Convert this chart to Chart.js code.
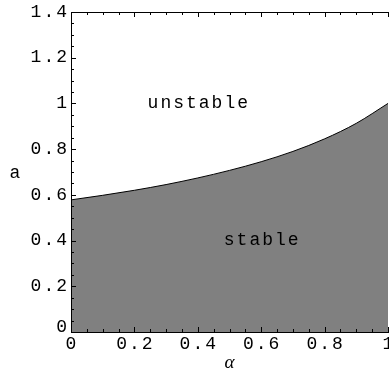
<!DOCTYPE html>
<html>
<head>
<meta charset="utf-8">
<script src="https://cdn.jsdelivr.net/npm/chart.js@4.4.0/dist/chart.umd.min.js"></script>
<style>
html,body{margin:0;padding:0;background:#fff;}
#wrap{width:389px;height:375px;position:relative;}
</style>
</head>
<body>
<div id="wrap"><canvas id="c" width="389" height="375"></canvas></div>
<script>
// Data
const alphaValues = [0, 0.1, 0.2, 0.3, 0.4, 0.5, 0.6, 0.7, 0.8, 0.9, 1.0];
const aValues     = [0.578, 0.598, 0.620, 0.645, 0.674, 0.707, 0.745, 0.790, 0.845, 0.913, 1.000];
const xTickValues = [0, 0.2, 0.4, 0.6, 0.8, 1];
const xTickLabels = ['0', '0.2', '0.4', '0.6', '0.8', '1'];
const yTickValues = [0, 0.2, 0.4, 0.6, 0.8, 1, 1.2, 1.4];
const yTickLabels = ['0', '0.2', '0.4', '0.6', '0.8', '1', '1.2', '1.4'];
const regionLabels = [
  {text: 'unstable', x: 0.40, y: 1.00},
  {text: 'stable',   x: 0.60, y: 0.40}
];
const xTitle = 'α';
const yTitle = 'a';

const points = alphaValues.map((v, i) => ({x: v, y: aValues[i]}));
const MONO = '18px "Liberation Mono", "Courier New", monospace';

const decor = {
  id: 'decor',
  afterDatasetsDraw(chart) {
    const ctx = chart.ctx;
    const xs = chart.scales.x, ys = chart.scales.y;
    const ca = chart.chartArea;
    ctx.save();
    ctx.strokeStyle = '#000';
    ctx.lineWidth = 1;
    // frame: left, top, bottom
    ctx.beginPath();
    ctx.moveTo(Math.round(ca.left) + 0.5, Math.round(ca.bottom) + 0.5);
    ctx.lineTo(Math.round(ca.left) + 0.5, Math.round(ca.top) + 0.5);
    ctx.lineTo(ca.right + 2, Math.round(ca.top) + 0.5);
    ctx.moveTo(Math.round(ca.left) + 0.5, Math.round(ca.bottom) + 0.5);
    ctx.lineTo(ca.right + 2, Math.round(ca.bottom) + 0.5);
    ctx.stroke();
    // ticks
    ctx.beginPath();
    for (let i = 0; i <= 20; i++) {
      const v = i * 0.05;
      const major = i % 4 === 0;
      const len = major ? 5 : 3;
      const px = Math.round(xs.getPixelForValue(v)) + 0.5;
      ctx.moveTo(px, Math.round(ca.bottom));
      ctx.lineTo(px, Math.round(ca.bottom) - len);
      ctx.moveTo(px, Math.round(ca.top));
      ctx.lineTo(px, Math.round(ca.top) + len);
    }
    for (let i = 0; i <= 28; i++) {
      const v = i * 0.05;
      const major = i % 4 === 0;
      const len = major ? 5 : 3;
      const py = Math.round(ys.getPixelForValue(v)) + 0.5;
      ctx.moveTo(Math.round(ca.left), py);
      ctx.lineTo(Math.round(ca.left) + len, py);
    }
    ctx.stroke();

    ctx.fillStyle = '#000';
    ctx.font = MONO;
    try { ctx.letterSpacing = '2px'; } catch (e) {}
    // x tick labels
    ctx.textAlign = 'center';
    ctx.textBaseline = 'middle';
    xTickValues.forEach((v, i) => {
      ctx.fillText(xTickLabels[i], xs.getPixelForValue(v) + 1, ca.bottom + 12);
    });
    // y tick labels
    ctx.textAlign = 'right';
    yTickValues.forEach((v, i) => {
      let py = ys.getPixelForValue(v);
      if (v === 0) py -= 5;
      ctx.fillText(yTickLabels[i], ca.left - 2, py);
    });
    // region labels
    ctx.textAlign = 'center';
    regionLabels.forEach(r => {
      ctx.fillText(r.text, xs.getPixelForValue(r.x) + 1, ys.getPixelForValue(r.y));
    });
    // axis titles
    ctx.fillText(yTitle, 16, (ca.top + ca.bottom) / 2 + 1);
    try { ctx.letterSpacing = '0px'; } catch (e) {}
    ctx.font = 'italic 19px "Liberation Serif", "Times New Roman", serif';
    ctx.fillText(xTitle, (ca.left + ca.right) / 2, 363);
    ctx.restore();
  }
};

new Chart(document.getElementById('c'), {
  type: 'scatter',
  data: {
    datasets: [{
      data: points,
      showLine: true,
      fill: 'origin',
      backgroundColor: '#808080',
      borderColor: '#000',
      borderWidth: 1,
      pointRadius: 0,
      tension: 0.4,
      cubicInterpolationMode: 'monotone'
    }]
  },
  options: {
    responsive: false,
    animation: false,
    devicePixelRatio: 1,
    layout: {padding: {left: 0, right: 1, top: 12, bottom: 0}},
    plugins: {legend: {display: false}, tooltip: {enabled: false}},
    scales: {
      x: {
        type: 'linear', min: 0, max: 1,
        grid: {display: false}, border: {display: false},
        ticks: {display: false},
        afterFit(s) { s.height = 43; }
      },
      y: {
        type: 'linear', min: 0, max: 1.4,
        grid: {display: false}, border: {display: false},
        ticks: {display: false},
        afterFit(s) { s.width = 71; }
      }
    }
  },
  plugins: [decor]
});
</script>
</body>
</html>
